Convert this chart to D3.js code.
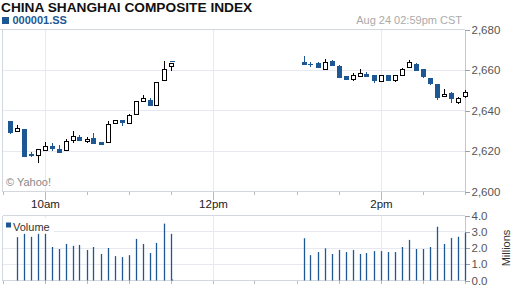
<!DOCTYPE html>
<html>
<head>
<meta charset="utf-8">
<script src="https://cdn.jsdelivr.net/npm/d3@7"></script>
<style>
  body { margin: 0; background: #fff; }
  svg { display: block; font-family: "Liberation Sans", Arial, sans-serif; }
</style>
</head>
<body>
<div id="chart"></div>
<script>
// 5-minute candles, Aug 24 session
const candleTimes = ["09:35","09:40","09:45","09:50","09:55","10:00","10:05","10:10","10:15","10:20","10:25","10:30",
  "10:35","10:40","10:45","10:50","10:55","11:00","11:05","11:10","11:15","11:20","11:25","11:30","11:31",
  "13:05","13:10","13:15","13:20","13:25","13:30","13:35","13:40","13:45","13:50","13:55","14:00",
  "14:05","14:10","14:15","14:20","14:25","14:30","14:35","14:40","14:45","14:50","14:55","15:00"];
const opens  = [2634.8,2629.9,2630.9,2618.5,2617.9,2620.6,2622.5,2621.0,2620.5,2625.4,2626.8,2624.8,
  2626.4,2624.4,2624.3,2634.0,2635.2,2634.0,2638.3,2644.5,2645.0,2642.7,2654.9,2661.8,2664.2,
  2664.0,2663.1,2663.6,2660.6,2664.4,2662.1,2657.0,2655.7,2657.0,2658.2,2657.4,2654.6,
  2657.7,2654.9,2657.4,2661.5,2663.1,2660.5,2656.2,2652.9,2647.0,2648.6,2644.2,2647.3];
const highs  = [2634.8,2632.7,2631.0,2619.7,2620.8,2624.4,2624.0,2623.0,2626.1,2629.9,2628.1,2626.8,
  2628.9,2624.6,2634.8,2635.3,2635.2,2638.4,2644.5,2647.7,2646.0,2653.9,2664.4,2663.6,2664.4,
  2667.1,2664.1,2664.0,2665.3,2664.8,2662.5,2657.0,2658.4,2660.5,2659.0,2657.4,2657.5,
  2657.7,2657.7,2661.1,2664.9,2663.4,2660.5,2656.2,2652.9,2650.6,2649.1,2646.8,2650.3];
const lows   = [2628.5,2629.9,2617.0,2617.2,2614.2,2620.6,2620.1,2618.9,2620.1,2624.1,2624.8,2624.1,
  2623.6,2622.9,2624.3,2633.2,2632.5,2634.0,2637.6,2644.5,2642.2,2642.4,2654.9,2659.4,2663.8,
  2662.3,2661.6,2660.8,2660.6,2661.8,2655.9,2654.9,2654.4,2657.0,2656.7,2653.6,2654.6,
  2654.4,2653.9,2657.4,2661.5,2659.4,2655.9,2652.6,2645.2,2647.0,2643.6,2643.1,2646.3];
const closes = [2629.0,2631.2,2617.2,2617.7,2620.8,2622.5,2621.0,2619.2,2625.1,2627.4,2624.8,2626.1,
  2623.6,2623.1,2633.3,2635.3,2633.7,2637.6,2644.5,2646.2,2642.2,2653.9,2660.3,2663.3,2663.8,
  2662.3,2662.3,2660.8,2664.0,2661.8,2655.9,2654.9,2657.7,2658.7,2656.7,2654.7,2657.5,
  2654.4,2657.7,2660.5,2664.0,2659.4,2656.4,2652.9,2646.3,2648.3,2645.5,2646.3,2649.3];

// volume in millions
const volTimes = ["09:40","09:45","09:50","09:55","10:00","10:05","10:10","10:15","10:20","10:25","10:30","10:35",
  "10:40","10:45","10:50","10:55","11:00","11:05","11:10","11:15","11:20","11:25","11:30","11:31",
  "13:05","13:10","13:15","13:20","13:25","13:30","13:35","13:40","13:45","13:50","13:55","14:00",
  "14:05","14:10","14:15","14:20","14:25","14:30","14:35","14:40","14:45","14:50","14:55","15:00"];
const volumes = [2.67,2.87,2.69,2.87,2.87,2.06,1.94,2.25,2.13,2.19,1.88,2.06,
  1.63,2.0,1.5,1.44,1.56,2.56,2.25,1.69,2.31,3.5,2.87,0.06,
  2.6,1.56,1.75,1.98,1.63,1.88,1.75,1.88,1.63,1.69,1.81,1.81,
  1.75,1.75,2.06,2.5,1.94,1.94,2.06,3.31,2.25,2.62,2.69,2.94];

const priceTicks = [2600, 2620, 2640, 2660, 2680];
const volTicks = [0, 1, 2, 3, 4];
const timeLabels = [["10:00", "10am"], ["12:00", "12pm"], ["14:00", "2pm"]];

const W = 512, H = 288;
const blue = "#1d5894", grid = "#e6e9f0", border = "#d3d7de";

const parseTime = d3.timeParse("%H:%M");
const svg = d3.select("#chart").append("svg").attr("width", W).attr("height", H);

const x = d3.scaleTime().domain([parseTime("09:30"), parseTime("15:00")]).range([2.5, 464.5]);
const y = d3.scaleLinear().domain([2600, 2680]).range([191.5, 29.5]);
const yv = d3.scaleLinear().domain([0, 4]).range([280.5, 215.5]);

// header
svg.append("text").attr("x", 1).attr("y", 12).attr("font-size", 13.7).attr("font-weight", "bold")
  .attr("fill", "#111").text("CHINA SHANGHAI COMPOSITE INDEX");
svg.append("rect").attr("x", 2).attr("y", 17).attr("width", 7).attr("height", 7).attr("fill", blue);
svg.append("text").attr("x", 12.5).attr("y", 24).attr("font-size", 11).attr("font-weight", "bold")
  .attr("fill", blue).text("000001.SS");
svg.append("text").attr("x", 462).attr("y", 24).attr("text-anchor", "end").attr("font-size", 11)
  .attr("fill", "#aaa").text("Aug 24 02:59pm CST");

// grids
const gGrid = svg.append("g").attr("stroke", grid).attr("shape-rendering", "crispEdges");
gGrid.selectAll(".hp").data(priceTicks.slice(1, -1)).join("line")
  .attr("x1", x.range()[0]).attr("x2", x.range()[1]).attr("y1", d => y(d)).attr("y2", d => y(d));
gGrid.selectAll(".hv").data(volTicks.slice(1, -1)).join("line")
  .attr("x1", x.range()[0]).attr("x2", x.range()[1]).attr("y1", d => yv(d)).attr("y2", d => yv(d));
timeLabels.forEach(([t]) => {
  const xx = Math.round(x(parseTime(t))) + 0.5;
  gGrid.append("line").attr("x1", xx).attr("x2", xx).attr("y1", y.range()[1]).attr("y2", y.range()[0]);
  gGrid.append("line").attr("x1", xx).attr("x2", xx).attr("y1", yv.range()[1]).attr("y2", yv.range()[0]);
});

// borders
const gB = svg.append("g").attr("stroke", border).attr("shape-rendering", "crispEdges");
gB.append("line").attr("x1", 0).attr("x2", x.range()[1]).attr("y1", 29.5).attr("y2", 29.5);
gB.append("line").attr("x1", x.range()[0]).attr("x2", x.range()[0]).attr("y1", 29.5).attr("y2", 191.5);
gB.append("line").attr("x1", x.range()[0]).attr("x2", x.range()[1]).attr("y1", 191.5).attr("y2", 191.5);
gB.append("line").attr("x1", x.range()[0]).attr("x2", x.range()[1]).attr("y1", 215.5).attr("y2", 215.5);
gB.append("line").attr("x1", x.range()[0]).attr("x2", x.range()[0]).attr("y1", 215.5).attr("y2", 280.5);
gB.append("line").attr("x1", x.range()[0]).attr("x2", x.range()[1]).attr("y1", 280.5).attr("y2", 280.5);

// x ticks (every 30 minutes)
const halfHours = x.ticks(d3.timeMinute.every(30));
[191.5, 280.5].forEach(yy => {
  svg.append("g").attr("stroke", "#b5bac3").attr("shape-rendering", "crispEdges")
    .selectAll("line").data(halfHours).join("line")
    .attr("x1", d => Math.round(x(d)) + 0.5).attr("x2", d => Math.round(x(d)) + 0.5)
    .attr("y1", yy).attr("y2", yy + 3.5);
});
timeLabels.forEach(([t, lab]) => {
  const xx = Math.round(x(parseTime(t))) + 0.5;
  svg.append("line").attr("x1", xx).attr("x2", xx).attr("y1", 191.5).attr("y2", 199.5)
    .attr("stroke", "#b5bac3").attr("shape-rendering", "crispEdges");
  svg.append("text").attr("x", xx).attr("y", 207.5).attr("text-anchor", "middle")
    .attr("font-size", 11.5).attr("fill", "#222").text(lab);
});

// right axes
const axP = svg.append("g").attr("transform", `translate(${x.range()[1]},0)`)
  .call(d3.axisRight(y).tickValues(priceTicks).tickFormat(d3.format(",")).tickSize(5).tickPadding(2));
const axV = svg.append("g").attr("transform", `translate(${x.range()[1]},0)`)
  .call(d3.axisRight(yv).tickValues(volTicks).tickFormat(d3.format(".1f")).tickSize(5).tickPadding(2));
[axP, axV].forEach(a => {
  a.select(".domain").attr("stroke", "#c3c8d0").attr("shape-rendering", "crispEdges");
  a.selectAll(".tick line").attr("stroke", "#9aa0aa").attr("shape-rendering", "crispEdges");
  a.selectAll(".tick text").attr("font-size", 11.5).attr("fill", "#555")
    .attr("font-family", "'Liberation Sans', Arial, sans-serif");
});
svg.append("text").attr("transform", "translate(510,248) rotate(-90)").attr("text-anchor", "middle")
  .attr("font-size", 11).attr("fill", "#333").text("Millions");

// candles
const candles = candleTimes.map((t, i) => ({
  t: parseTime(t), o: opens[i], h: highs[i], l: lows[i], c: closes[i]
}));
const gC = svg.append("g").attr("shape-rendering", "crispEdges");
candles.forEach(d => {
  const up = d.c >= d.o;
  const cx = Math.round(x(d.t));
  const col = up ? "#000" : blue;
  gC.append("line").attr("x1", cx + 0.5).attr("x2", cx + 0.5)
    .attr("y1", y(d.h)).attr("y2", y(d.l)).attr("stroke", col);
  const top = Math.round(y(Math.max(d.o, d.c)));
  const bot = Math.round(y(Math.min(d.o, d.c)));
  if (up) {
    gC.append("rect").attr("x", cx - 1.5).attr("y", top + 0.5).attr("width", 4)
      .attr("height", Math.max(bot - top, 1)).attr("fill", "#fff").attr("stroke", "#000");
  } else {
    gC.append("rect").attr("x", cx - 2).attr("y", top).attr("width", 5)
      .attr("height", Math.max(bot - top, 1)).attr("fill", blue);
  }
});

// copyright
svg.append("text").attr("x", 6).attr("y", 186).attr("font-size", 11).attr("fill", "#888").text("\u00a9 Yahoo!");

// volume bars
svg.append("g").selectAll("line").data(volTimes.map((t, i) => ({ t: parseTime(t), v: volumes[i] })))
  .join("line")
  .attr("x1", d => Math.round(x(d.t)) + 0.5).attr("x2", d => Math.round(x(d.t)) + 0.5)
  .attr("y1", yv(0)).attr("y2", d => yv(d.v))
  .attr("stroke", blue).attr("stroke-width", 1.3);

// volume legend
svg.append("rect").attr("x", 3).attr("y", 218).attr("width", 51).attr("height", 15).attr("fill", "#fff");
svg.append("rect").attr("x", 6).attr("y", 222.5).attr("width", 5).attr("height", 5).attr("fill", blue);
svg.append("text").attr("x", 13).attr("y", 230.5).attr("font-size", 11).attr("fill", "#333").text("Volume");
</script>
</body>
</html>
